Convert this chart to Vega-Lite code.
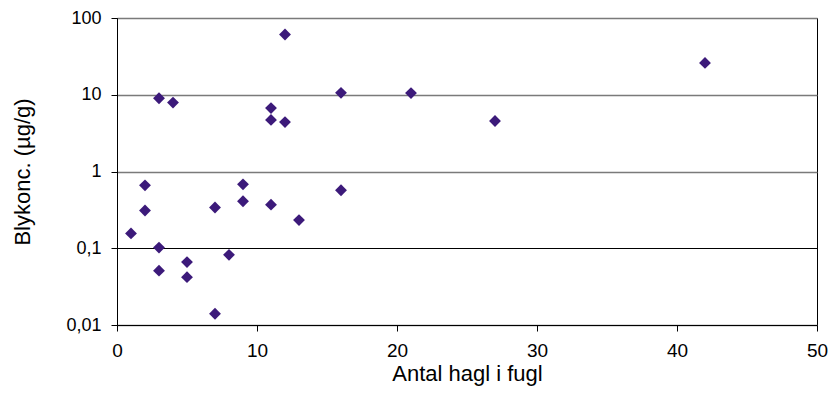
{
  "$schema": "https://vega.github.io/schema/vega-lite/v6.json",
  "width": 700,
  "height": 307,
  "autosize": {"type": "none"},
  "padding": {"left": 117, "top": 18, "right": 19, "bottom": 87},
  "background": "white",
  "config": {
    "view": {"stroke": "#000000", "strokeWidth": 1},
    "font": "Liberation Sans"
  },
  "data": {
    "values": [
      {"hagl": 1, "bly": 0.156},
      {"hagl": 2, "bly": 0.66},
      {"hagl": 2, "bly": 0.31},
      {"hagl": 3, "bly": 9.0},
      {"hagl": 3, "bly": 0.102},
      {"hagl": 3, "bly": 0.051},
      {"hagl": 4, "bly": 7.9},
      {"hagl": 5, "bly": 0.066},
      {"hagl": 5, "bly": 0.042},
      {"hagl": 7, "bly": 0.34},
      {"hagl": 7, "bly": 0.014},
      {"hagl": 8, "bly": 0.082},
      {"hagl": 9, "bly": 0.68},
      {"hagl": 9, "bly": 0.41},
      {"hagl": 11, "bly": 6.7},
      {"hagl": 11, "bly": 4.7},
      {"hagl": 11, "bly": 0.37},
      {"hagl": 12, "bly": 61},
      {"hagl": 12, "bly": 4.4},
      {"hagl": 13, "bly": 0.233},
      {"hagl": 16, "bly": 10.6},
      {"hagl": 16, "bly": 0.57},
      {"hagl": 21, "bly": 10.5},
      {"hagl": 27, "bly": 4.55},
      {"hagl": 42, "bly": 26}
    ]
  },
  "mark": {"type": "point", "shape": "diamond", "filled": true, "size": 140, "color": "#3c1a7a", "opacity": 1},
  "encoding": {
    "x": {
      "field": "hagl",
      "type": "quantitative",
      "scale": {"domain": [0, 50], "nice": false, "zero": false},
      "axis": {
        "values": [0, 10, 20, 30, 40, 50],
        "title": "Antal hagl i fugl",
        "grid": false,
        "ticks": true,
        "tickWidth": 1,
        "domainColor": "#000000",
        "domainWidth": 1,
        "tickColor": "#000000",
        "tickSize": 6,
        "labelFlush": false,
        "labelFontSize": 19,
        "labelColor": "#000000",
        "labelPadding": 10,
        "labelFont": "Liberation Sans",
        "titleFont": "Liberation Sans",
        "titleFontSize": 22,
        "titleFontWeight": "normal",
        "titleColor": "#000000",
        "titleBaseline": "alphabetic",
        "titleY": 55
      }
    },
    "y": {
      "field": "bly",
      "type": "quantitative",
      "scale": {"type": "log", "domain": [0.01, 100], "nice": false},
      "axis": {
        "values": [0.01, 0.1, 1, 10, 100],
        "labelExpr": "replace(format(datum.value, '~g'), '.', ',')",
        "title": "Blykonc. (µg/g)",
        "grid": true,
        "ticks": true,
        "tickWidth": 1,
        "gridColor": {"condition": {"test": "datum.value == 0.1", "value": "#000000"}, "value": "#7a7a7a"},
        "gridWidth": {"condition": {"test": "datum.value == 0.1", "value": 1}, "value": 1.5},
        "domainColor": "#000000",
        "tickColor": "#000000",
        "tickSize": 6,
        "labelFlush": false,
        "labelFontSize": 18,
        "labelColor": "#000000",
        "labelPadding": 10,
        "labelFont": "Liberation Sans",
        "titleFont": "Liberation Sans",
        "titleFontSize": 22,
        "titleFontWeight": "normal",
        "titleColor": "#000000",
        "titleBaseline": "alphabetic",
        "titleX": -88
      }
    }
  }
}
